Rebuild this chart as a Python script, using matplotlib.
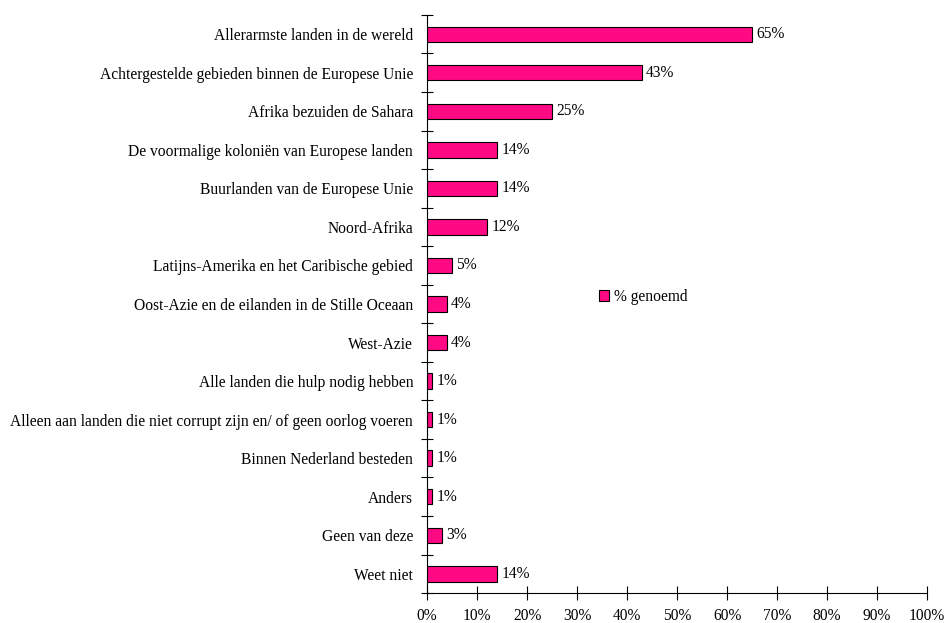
import matplotlib.pyplot as plt
import numpy as np

categories = [
    "Allerarmste landen in de wereld",
    "Achtergestelde gebieden binnen de Europese Unie",
    "Afrika bezuiden de Sahara",
    "De voormalige koloniën van Europese landen",
    "Buurlanden van de Europese Unie",
    "Noord-Afrika",
    "Latijns-Amerika en het Caribische gebied",
    "Oost-Azie en de eilanden in de Stille Oceaan",
    "West-Azie",
    "Alle landen die hulp nodig hebben",
    "Alleen aan landen die niet corrupt zijn en/ of geen oorlog voeren",
    "Binnen Nederland besteden",
    "Anders",
    "Geen van deze",
    "Weet niet",
]
values = [65, 43, 25, 14, 14, 12, 5, 4, 4, 1, 1, 1, 1, 3, 14]
xticks = list(range(0, 101, 10))

plt.rcParams['font.family'] = ['Liberation Serif', 'DejaVu Serif']
fs = 11.2

fig = plt.figure(figsize=(9.47, 6.23), dpi=100)
ax = fig.add_axes([0.451, 0.048, 0.528, 0.928])

y = np.arange(len(categories))
ax.barh(y, values, height=0.4, color='#FF0A84', edgecolor='black', linewidth=0.8,
        label='% genoemd')
for yi, v in zip(y, values):
    ax.text(v + 0.8, yi, f"{v}%", va='center', ha='left', fontsize=fs)

ax.set_xlim(0, 100)
ax.set_ylim(len(categories) - 0.5, -0.5)
ax.set_xticks(xticks)
ax.set_xticklabels([f"{t}%" for t in xticks], fontsize=fs)
ax.set_yticks(y)
ax.set_yticklabels(categories, fontsize=fs)
ax.set_yticks(np.arange(-0.5, len(categories), 1), minor=True)

ax.tick_params(axis='y', which='major', length=0, pad=10)
ax.tick_params(axis='y', which='minor', direction='inout', length=8, width=0.8)
ax.tick_params(axis='x', direction='inout', length=10, width=0.8, pad=6)

for s in ['top', 'right']:
    ax.spines[s].set_visible(False)
for s in ['left', 'bottom']:
    ax.spines[s].set_linewidth(0.8)

ax.legend(loc='center left', bbox_to_anchor=(0.315, 0.512), frameon=False, fontsize=fs,
          handlelength=0.7, handleheight=0.7, handletextpad=0.3)

fig.savefig("out.png", dpi=100)
